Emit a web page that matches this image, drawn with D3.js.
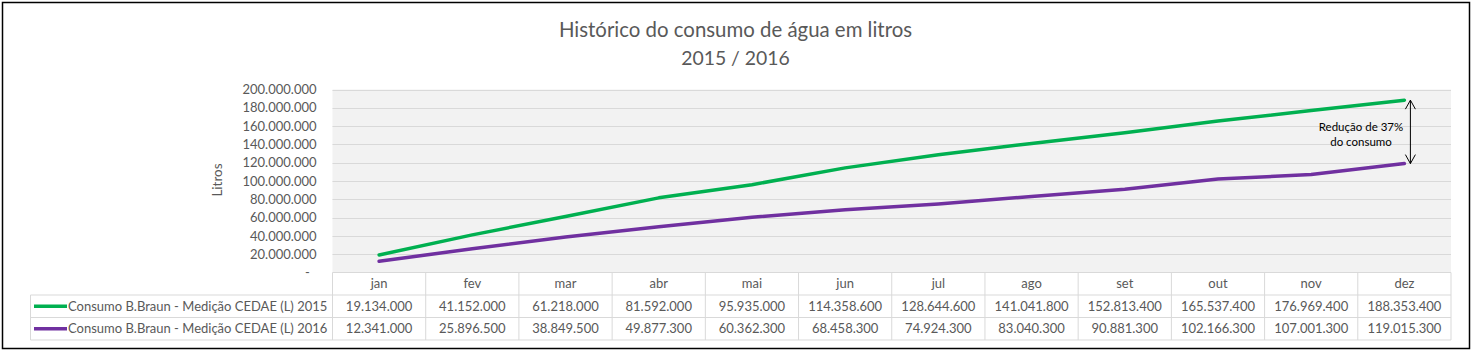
<!DOCTYPE html>
<html><head><meta charset="utf-8">
<script src="https://cdn.jsdelivr.net/npm/d3@7"></script>
<style>
html,body{margin:0;padding:0;background:#fff;}
svg text{font-family:Lato,"Open Sans",sans-serif;}
</style></head>
<body>
<svg id="chart" width="1476" height="356"></svg>
<script>
const months = ["jan","fev","mar","abr","mai","jun","jul","ago","set","out","nov","dez"];
const values2015 = [19134000,41152000,61218000,81592000,95935000,114358600,128644600,141041800,152813400,165537400,176969400,188353400];
const values2016 = [12341000,25896500,38849500,49877300,60362300,68458300,74924300,83040300,90881300,102166300,107001300,119015300];
const seriesNames = ["Consumo B.Braun - Medição CEDAE (L) 2015","Consumo B.Braun - Medição CEDAE (L) 2016"];
const seriesColors = ["#00B050","#7030A0"];
const yTicks = [0,20000000,40000000,60000000,80000000,100000000,120000000,140000000,160000000,180000000,200000000];
const titleLines = ["Histórico do consumo de água em litros","2015 / 2016"];
const yTitle = "Litros";
const annotationLines = ["Redução de 37%","do consumo"];

const series = [values2015, values2016];
const svg = d3.select("#chart");
const textColor = "#595959";
const gridColor = "#d9d9d9";

const loc = d3.formatLocale({decimal:",", thousands:".", grouping:[3], currency:["",""]});
const fmt = loc.format(",d");

const L = 332.5, R = 1451, T = 89.5, B = 272.5;
const rowH = 22.5;
const legendLeft = 30.5;

const x = d3.scaleBand().domain(months).range([L, R]).padding(0);
const y = d3.scaleLinear().domain([0, 200000000]).range([B, T]);

// outer border
svg.append("rect").attr("x",2.5).attr("y",2.5).attr("width",1467).attr("height",346)
  .attr("fill","#fff").attr("stroke","#000").attr("stroke-width",1.5);

// title
const titleSizes = ["20.4px","19.4px"];
svg.append("g").selectAll("text").data(titleLines).join("text")
  .attr("x",735.5).attr("y",(d,i)=>37 + i*28)
  .attr("text-anchor","middle").attr("fill",textColor)
  .style("font-size",(d,i)=>titleSizes[i]).text(d=>d);

// plot background
svg.append("rect").attr("x",L).attr("y",T).attr("width",R-L).attr("height",B-T).attr("fill","#f2f2f2");

// gridlines
svg.append("g").selectAll("line").data(yTicks.filter(d=>d>0)).join("line")
  .attr("x1",L).attr("x2",R).attr("y1",d=>Math.round(y(d))+0.5).attr("y2",d=>Math.round(y(d))+0.5)
  .attr("stroke",gridColor).attr("stroke-width",1);

// y axis
const yAxis = d3.axisLeft(y).tickValues(yTicks).tickSize(0).tickPadding(16)
  .tickFormat(d => d===0 ? "-  " : fmt(d));
const ya = svg.append("g").attr("transform",`translate(${L},0)`).call(yAxis);
ya.select(".domain").remove();
ya.selectAll("text").attr("fill",textColor).style("font-size","13px").style("font-family","Lato,sans-serif")
  .attr("xml:space","preserve").style("white-space","pre");

// y title
svg.append("text").attr("transform","translate(222,180) rotate(-90)")
  .attr("text-anchor","middle").attr("fill",textColor).style("font-size","13.5px").text(yTitle);

// lines
const line = d3.line().x((d,i)=>x(months[i]) + x.bandwidth()/2).y(d=>y(d));
svg.append("g").selectAll("path").data(series).join("path")
  .attr("d",line).attr("fill","none").attr("stroke",(d,i)=>seriesColors[i])
  .attr("stroke-width",3.5).attr("stroke-linejoin","round").attr("stroke-linecap","round");

// annotation arrow
const ax = x("dez") + x.bandwidth()/2 + 6;
const yTop = y(values2015[11]), yBot = y(values2016[11]);
const ann = svg.append("g");
ann.append("line").attr("x1",ax).attr("x2",ax).attr("y1",yTop).attr("y2",yBot).attr("stroke","#000").attr("stroke-width",1);
ann.append("path").attr("d",`M${ax-5},${yTop+9}L${ax},${yTop}L${ax+5},${yTop+9}`).attr("fill","none").attr("stroke","#000").attr("stroke-width",1);
ann.append("path").attr("d",`M${ax-5},${yBot-9}L${ax},${yBot}L${ax+5},${yBot-9}`).attr("fill","none").attr("stroke","#000").attr("stroke-width",1);
ann.selectAll("text").data(annotationLines).join("text")
  .attr("x",1361).attr("y",(d,i)=>131 + i*15).attr("text-anchor","middle")
  .attr("fill","#000").style("font-size","11.5px").text(d=>d);

// data table
const tbl = svg.append("g");
const tableStroke = gridColor;
tbl.append("line").attr("x1",L).attr("x2",R).attr("y1",B).attr("y2",B).attr("stroke",tableStroke);
[1,2,3].forEach(k=>{
  tbl.append("line").attr("x1",legendLeft).attr("x2",R).attr("y1",B+k*rowH).attr("y2",B+k*rowH).attr("stroke",tableStroke);
});
months.forEach(m=>{
  tbl.append("line").attr("x1",x(m)).attr("x2",x(m)).attr("y1",B).attr("y2",B+3*rowH).attr("stroke",tableStroke);
});
tbl.append("line").attr("x1",R).attr("x2",R).attr("y1",B).attr("y2",B+3*rowH).attr("stroke",tableStroke);
tbl.append("line").attr("x1",legendLeft).attr("x2",legendLeft).attr("y1",B+rowH).attr("y2",B+3*rowH).attr("stroke",tableStroke);

// header
tbl.selectAll("text.hdr").data(months).join("text").attr("class","hdr")
  .attr("x",d=>x(d)+x.bandwidth()/2).attr("y",B+rowH/2).attr("dy","0.35em")
  .attr("text-anchor","middle").attr("fill",textColor).style("font-size","13px").text(d=>d);

// rows
series.forEach((vals,si)=>{
  const cy = B + rowH*(si+1) + rowH/2;
  tbl.append("line").attr("x1",34).attr("x2",67).attr("y1",cy).attr("y2",cy)
    .attr("stroke",seriesColors[si]).attr("stroke-width",3.5);
  tbl.append("text").attr("x",68).attr("y",cy).attr("dy","0.35em").attr("fill",textColor)
    .style("font-size","13px").text(seriesNames[si]);
  tbl.selectAll("text.v"+si).data(vals).join("text").attr("class","v"+si)
    .attr("x",(d,i)=>x(months[i])+x.bandwidth()/2).attr("y",cy).attr("dy","0.35em")
    .attr("text-anchor","middle").attr("fill",textColor).style("font-size","13px").text(d=>fmt(d));
});
</script>
</body></html>
